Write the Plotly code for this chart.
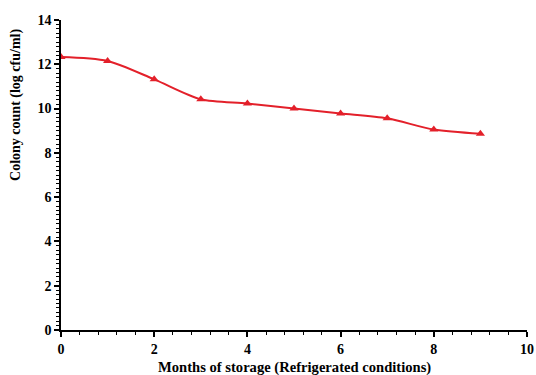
import plotly.graph_objects as go

months = [0, 1, 2, 3, 4, 5, 6, 7, 8, 9]
colony_count = [12.33, 12.15, 11.32, 10.42, 10.23, 10.0, 9.78, 9.56, 9.05, 8.86]

fig = go.Figure()
fig.add_trace(go.Scatter(
    x=months, y=colony_count, mode="lines+markers",
    line=dict(color="#e3202a", width=2, shape="spline", smoothing=0.8),
    marker=dict(symbol="triangle-up", size=8, color="#e3202a"),
    showlegend=False,
))

font_family = "Liberation Serif, Times New Roman, serif"
fig.update_layout(
    width=536, height=375,
    margin=dict(l=61, r=9, t=20, b=45),
    paper_bgcolor="white", plot_bgcolor="white",
    font=dict(family=font_family, color="black"),
)
fig.update_xaxes(
    range=[0, 10], dtick=2, showgrid=False, zeroline=False, automargin=False,
    showline=True, linecolor="black", linewidth=1.5,
    ticks="outside", ticklen=5, tickcolor="black", tickwidth=1.5,
    minor=dict(dtick=0.4, ticks="outside", ticklen=3, tickcolor="black", tickwidth=1),
    tickfont=dict(size=14, family=font_family, weight="bold"),
)
fig.update_yaxes(
    range=[0, 14], dtick=2, showgrid=False, zeroline=False, automargin=False,
    showline=True, linecolor="black", linewidth=1.5,
    ticks="outside", ticklen=5, tickcolor="black", tickwidth=1.5,
    minor=dict(dtick=0.2, ticks="outside", ticklen=3, tickcolor="black", tickwidth=1),
    tickfont=dict(size=14, family=font_family, weight="bold"),
)
fig.add_annotation(
    text="<b>Months of storage (Refrigerated conditions)</b>",
    xref="paper", yref="paper", x=0.5, y=-37 / 310,
    xanchor="center", yanchor="middle", showarrow=False,
    font=dict(size=14.6, family=font_family, color="black"),
)
fig.add_annotation(
    text="<b>Colony count (log cfu/ml)</b>", textangle=-90,
    xref="paper", yref="paper", x=-0.0966, y=0.726,
    xanchor="center", yanchor="middle", showarrow=False,
    font=dict(size=14, family=font_family, color="black"),
)

# remove the browser's default 8px body margin so the figure fills the window
fig.write_html("out.html", config={"displayModeBar": False},
               post_script="document.body.style.margin='0';")
